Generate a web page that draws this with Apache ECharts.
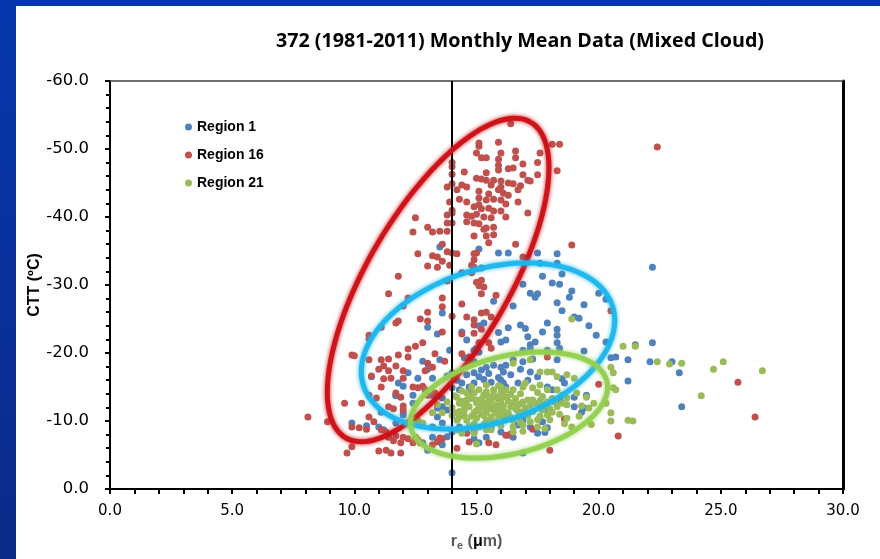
<!DOCTYPE html>
<html><head><meta charset="utf-8">
<script src="https://cdn.jsdelivr.net/npm/echarts@6/dist/echarts.min.js"></script>
<style>
html,body{margin:0;padding:0;width:880px;height:559px;overflow:hidden;background:linear-gradient(180deg,#0637ad 0%,#0a309a 55%,#0b2a86 100%);}
#c{position:absolute;left:16px;top:6px;width:864px;height:553px;background:#fff;}
</style></head><body><div id="c"></div>
<script>
const chartTitle='372 (1981-2011) Monthly Mean Data (Mixed Cloud)';
const xTicks=[0,5,10,15,20,25,30];
const yTicks=[-60,-50,-40,-30,-20,-10,0];
const seriesNames=['Region 1','Region 16','Region 21'];
const refLineX=14;

const region1=[
[13.5,-35.6],[15.1,-35.3],[15.9,-34.7],[16.3,-34.7],[17.5,-34.7],[18.3,-34.6],[18.3,-33.2],[17.6,-33.2],[15.2,-32.5],[17.7,-31.3],
[18.5,-31.6],[16.9,-30.1],[18.1,-30.3],[18.4,-30.1],[17.2,-28.8],[17.5,-28.7],[17.4,-28.2],[18.9,-29.1],[18.8,-28.2],[20.0,-28.8],
[15.7,-27.6],[18.3,-27.4],[19.4,-27.1],[20.3,-27.9],[16.5,-26.9],[18.5,-26.2],[13.6,-25.9],[15.1,-24.0],[15.3,-24.4],[13.0,-23.8],
[14.4,-23.1],[15.9,-23.0],[16.3,-23.7],[16.8,-24.1],[17.0,-23.6],[17.9,-24.4],[18.3,-23.5],[18.3,-22.6],[19.2,-25.1],[19.6,-24.0],
[13.4,-22.8],[17.7,-23.1],[17.1,-22.4],[17.4,-21.6],[17.2,-21.2],[14.6,-21.9],[16.0,-21.6],[16.2,-21.9],[18.3,-21.5],[19.9,-22.6],
[13.9,-20.4],[14.9,-20.4],[15.0,-20.7],[15.1,-20.1],[16.9,-20.4],[17.2,-20.7],[17.9,-20.4],[18.4,-20.7],[19.4,-20.3],[12.8,-18.8],
[13.5,-19.0],[14.5,-19.3],[16.5,-19.0],[16.9,-18.7],[17.3,-19.1],[18.3,-19.0],[20.5,-19.3],[20.7,-19.4],[21.2,-19.0],[21.5,-21.2],
[21.2,-15.9],[13.0,-17.6],[12.2,-17.1],[11.8,-15.6],[12.0,-15.1],[12.6,-16.3],[13.2,-16.3],[15.2,-17.5],[15.4,-17.9],[15.7,-18.2],
[16.0,-17.9],[16.2,-18.2],[17.2,-17.2],[17.5,-16.5],[10.7,-16.5],[11.7,-13.7],[14.0,-17.1],[14.3,-14.6],[14.7,-15.0],[17.9,-15.0],
[18.1,-14.6],[19.0,-12.1],[19.3,-11.3],[17.8,-11.8],[12.4,-12.6],[13.6,-12.1],[12.0,-10.9],[11.0,-9.1],[9.9,-9.7],[10.5,-9.3],
[15.4,-9.9],[15.6,-9.1],[16.9,-10.1],[17.2,-9.1],[17.5,-8.2],[17.8,-8.3],[13.2,-7.6],[13.5,-7.3],[14.0,-8.4],[12.8,-6.8],
[13.0,-5.7],[14.9,-7.4],[15.1,-6.8],[16.9,-5.3],[14.0,-2.4],[11.7,-13.8],[12.4,-13.8],[12.0,-11.2],[11.2,-8.7],[13.4,-10.6],
[13.6,-9.7],[13.8,-7.7],[13.6,-6.5],[17.7,-9.9],[17.9,-9.0],[18.4,-13.1],[19.5,-13.8],[16.7,-9.4],[16.3,-7.9],[14.9,-15.6],
[14.7,-14.1],[15.6,-15.7],[16.1,-15.6],[22.2,-32.6],[19.0,-25.3],[20.3,-21.6],[22.2,-21.5],[22.1,-18.7],[23.0,-18.7],[23.3,-17.1],
[23.4,-12.1],[14.7,-19.4],[14.9,-18.7],[15.5,-17.0],[16.1,-17.2],[14.9,-17.1],[15.1,-16.5],[14.2,-16.0],[14.4,-15.6],[12.9,-14.6],
[13.2,-13.8],[13.4,-11.9],[13.8,-11.6],[18.5,-16.2],[18.6,-15.6],[16.2,-15.0],[16.7,-15.6],[19.0,-13.5],[19.4,-11.9],[16.0,-8.4],
[16.5,-7.6],[15.4,-7.6],[14.3,-9.1],[13.2,-9.1],[11.7,-9.7],[11.1,-11.3],[15.9,-16.4],[16.4,-16.8],[15.3,-16.1],[16.8,-17.6],
[17.1,-16.0],[14.6,-16.8],[13.8,-16.6],[14.0,-14.9],[13.6,-13.4],[16.0,-16.0]
];

const region16=[
[16.4,-53.7],[15.1,-50.9],[15.9,-51.0],[18.1,-50.7],[18.4,-50.7],[15.1,-50.4],[15.0,-49.4],[16.0,-49.4],[16.6,-49.7],[17.6,-49.4],
[15.2,-48.7],[15.4,-48.7],[15.9,-48.5],[16.6,-48.7],[14.0,-48.0],[15.9,-47.6],[16.9,-47.8],[17.5,-48.0],[14.0,-47.4],[15.9,-46.9],
[16.3,-47.1],[16.5,-47.2],[18.3,-46.8],[14.5,-46.6],[15.4,-46.5],[14.0,-46.3],[16.9,-46.2],[17.5,-46.2],[15.0,-45.7],[15.2,-45.6],
[15.4,-45.4],[15.7,-45.4],[16.0,-45.3],[16.3,-45.0],[17.1,-45.4],[17.2,-45.3],[14.0,-44.9],[13.8,-44.4],[14.4,-44.7],[14.6,-44.4],
[15.6,-44.7],[16.0,-44.4],[15.9,-44.0],[16.5,-44.9],[16.8,-44.6],[15.1,-43.8],[15.5,-43.4],[16.1,-43.5],[16.3,-43.2],[16.7,-44.0],
[14.2,-44.0],[14.3,-42.6],[14.6,-42.2],[15.1,-42.8],[15.4,-42.5],[15.7,-42.6],[16.0,-42.5],[15.1,-41.8],[16.2,-41.9],[16.7,-42.2],
[13.9,-42.2],[14.0,-41.0],[14.9,-41.5],[15.2,-41.2],[15.5,-41.3],[15.7,-40.9],[16.0,-40.9],[14.6,-40.3],[14.8,-40.1],[15.0,-40.4],
[15.3,-40.0],[15.6,-39.9],[16.2,-40.0],[17.1,-40.6],[13.8,-40.3],[14.0,-40.6],[12.5,-39.9],[14.6,-39.3],[14.9,-39.1],[15.1,-39.0],
[13.8,-39.1],[14.0,-39.1],[13.0,-38.5],[13.2,-37.8],[13.5,-37.9],[13.8,-37.9],[12.4,-37.8],[15.3,-38.2],[15.4,-38.4],[15.7,-38.5],
[14.9,-37.2],[15.4,-37.2],[15.7,-37.4],[15.5,-36.2],[16.6,-36.0],[18.9,-35.9],[13.6,-36.0],[13.8,-34.9],[14.0,-34.7],[14.2,-34.6],
[14.9,-34.6],[15.0,-34.7],[12.6,-34.6],[13.2,-34.3],[13.4,-34.1],[13.6,-33.5],[14.9,-33.7],[14.8,-32.9],[14.9,-32.6],[16.9,-34.1],
[13.0,-32.8],[13.4,-32.6],[13.9,-32.9],[14.4,-31.8],[14.8,-31.8],[11.8,-31.3],[15.2,-30.7],[15.0,-30.4],[13.8,-30.6],[15.3,-29.7],
[11.4,-28.7],[12.2,-28.1],[15.2,-28.7],[15.8,-28.5],[13.6,-28.1],[15.1,-29.9],[12.0,-26.9],[13.6,-26.8],[14.4,-27.2],[13.0,-26.0],
[15.2,-25.9],[15.4,-26.0],[12.7,-25.0],[13.0,-24.7],[11.8,-24.7],[11.7,-24.4],[14.0,-25.4],[14.6,-25.3],[15.6,-25.3],[14.9,-24.9],
[14.9,-24.1],[11.1,-23.8],[15.2,-23.5],[13.6,-23.1],[10.6,-22.6],[10.6,-22.1],[14.4,-22.8],[14.9,-22.9],[15.1,-21.5],[15.5,-21.5],
[12.8,-21.5],[12.5,-21.0],[15.6,-20.7],[12.2,-20.6],[9.9,-19.7],[10.0,-19.6],[10.6,-19.0],[11.1,-19.0],[11.4,-19.1],[11.8,-19.7],
[12.2,-19.4],[13.3,-19.9],[13.7,-18.8],[14.4,-19.9],[14.7,-19.3],[11.2,-18.1],[11.4,-17.4],[11.0,-17.6],[11.7,-18.1],[12.0,-17.4],
[12.9,-17.4],[13.2,-17.9],[10.7,-16.6],[11.2,-16.2],[11.5,-16.3],[12.0,-16.3],[12.4,-15.0],[12.6,-14.9],[12.8,-15.1],[12.9,-14.6],
[11.1,-15.0],[10.6,-13.8],[10.9,-13.4],[11.7,-14.1],[11.9,-13.5],[13.0,-13.8],[13.3,-14.1],[9.6,-12.6],[10.3,-12.6],[11.4,-12.1],
[12.0,-11.6],[8.1,-10.6],[8.9,-9.9],[9.9,-9.1],[10.2,-9.0],[10.5,-8.8],[11.1,-8.7],[11.3,-8.4],[11.7,-7.8],[12.0,-7.6],
[12.2,-7.4],[12.5,-7.6],[11.6,-7.1],[11.9,-6.8],[9.9,-6.2],[9.7,-5.3],[11.0,-5.6],[11.3,-5.7],[11.5,-5.3],[11.9,-5.3],
[13.6,-7.4],[12.7,-6.8],[13.2,-6.5],[14.6,-8.2],[14.9,-8.4],[15.5,-6.8],[15.8,-6.5],[16.2,-7.9],[16.4,-8.1],[17.3,-8.8],
[18.0,-5.7],[17.9,-19.4],[20.0,-15.4],[20.8,-7.8],[18.6,-10.3],[15.9,-13.4],[13.0,-18.5],[11.6,-11.8],[12.0,-12.2],[10.6,-10.6],
[10.8,-9.9],[11.4,-7.6],[12.4,-6.8],[12.6,-7.2],[13.4,-6.9],[13.5,-7.5],[14.2,-6.0],[14.7,-6.9],[22.4,-50.3],[20.5,-26.2],
[25.7,-15.7],[26.4,-10.6]
];

const region21=[
[18.9,-25.0],[21.0,-21.0],[21.5,-21.0],[16.5,-18.5],[17.2,-19.0],[17.6,-17.2],[17.9,-17.2],[18.1,-17.2],[18.3,-16.5],[18.7,-16.8],
[19.0,-16.3],[20.5,-17.9],[20.6,-17.1],[20.7,-14.6],[19.8,-12.6],[19.6,-11.9],[20.5,-11.2],[20.5,-10.0],[21.4,-10.0],[19.2,-10.7],
[19.3,-12.2],[18.7,-10.4],[18.6,-9.6],[18.1,-11.3],[17.9,-10.9],[17.6,-10.7],[17.5,-9.1],[17.2,-9.9],[16.9,-9.4],[16.5,-10.1],
[16.1,-10.4],[15.8,-9.9],[15.0,-6.6],[16.0,-15.0],[16.5,-14.6],[16.9,-15.0],[17.3,-14.9],[17.6,-15.3],[17.9,-14.6],[18.3,-14.6],
[18.5,-13.8],[18.7,-12.4],[18.3,-12.1],[19.1,-14.1],[19.5,-13.5],[17.6,-12.1],[17.9,-12.8],[17.3,-13.1],[16.7,-12.4],[16.9,-11.3],
[17.1,-13.1],[14.2,-13.5],[14.3,-12.6],[14.5,-11.6],[14.6,-13.1],[14.7,-12.1],[14.9,-14.1],[14.9,-11.2],[15.0,-13.1],[15.1,-11.9],
[15.3,-13.8],[15.4,-12.6],[15.4,-11.3],[15.6,-13.1],[15.6,-12.1],[15.8,-13.5],[15.8,-11.2],[16.0,-12.6],[16.1,-11.6],[16.2,-13.5],
[16.4,-12.1],[14.1,-11.2],[14.3,-10.6],[14.6,-10.1],[15.0,-10.4],[15.4,-10.1],[13.4,-12.4],[13.6,-11.2],[13.2,-11.2],[12.8,-9.7],
[12.6,-10.1],[14.6,-14.1],[14.8,-15.0],[15.4,-15.3],[15.7,-14.6],[16.1,-13.8],[17.0,-15.6],[14.9,-8.2],[15.1,-9.1],[15.4,-8.7],
[15.6,-8.7],[16.5,-8.4],[16.5,-9.1],[14.2,-8.7],[14.4,-8.2],[17.7,-11.6],[18.5,-12.6],[18.7,-13.4],[20.3,-12.6],[20.6,-14.9],
[21.2,-10.1],[22.4,-18.7],[22.9,-18.4],[23.4,-18.5],[24.7,-17.6],[25.1,-18.7],[26.7,-17.4],[24.2,-13.7],[14.4,-12.9],[14.8,-13.3],
[15.2,-12.3],[15.5,-13.6],[15.9,-12.0],[16.3,-12.9],[16.6,-11.8],[15.1,-14.6],[15.7,-11.6],[16.0,-14.2],[14.5,-10.8],[15.3,-10.8],
[16.2,-10.9],[16.8,-12.5],[17.0,-11.9],[15.6,-9.8],[14.9,-9.6],[14.2,-10.1],[16.4,-13.9],[17.4,-12.6],[15.9,-15.2],[14.6,-12.4],
[15.4,-14.3],[16.7,-10.6],[14.0,-12.0],[14.1,-13.7],[17.7,-13.6],[18.1,-13.3],[18.0,-10.2],[16.9,-8.5],[17.8,-8.9],[18.9,-9.1],
[19.7,-9.5],[14.3,-11.4],[14.5,-12.2],[14.7,-13.6],[14.8,-10.7],[15.0,-11.5],[15.0,-12.7],[15.2,-13.2],[15.2,-11.0],[15.3,-12.0],
[15.5,-11.8],[15.5,-12.9],[15.6,-10.6],[15.7,-13.9],[15.8,-12.4],[15.9,-10.8],[16.0,-11.4],[16.0,-13.3],[16.1,-12.2],[16.2,-14.6],
[16.3,-11.2],[16.4,-10.5],[16.5,-12.7],[16.6,-13.3],[16.7,-11.5],[16.8,-14.0],[16.9,-12.8],[17.1,-10.8],[17.2,-12.3],[17.3,-11.4],
[17.5,-14.2],[17.6,-13.0],[17.8,-12.4],[18.0,-11.8],[18.2,-12.8],[18.4,-11.0],[14.4,-14.4],[14.0,-10.8],[13.8,-12.8],[14.7,-9.2],
[15.3,-9.5],[16.0,-9.3],[16.8,-9.8],[17.5,-10.2]
];

// ellipses: [centerX, centerY, axisEndX, axisEndY, conjugateEndX, conjugateEndY] in data units
const ellipseRed=[13.43,-30.74,17.22,-53.94,15.92,-25.47];
const ellipseCyan=[15.47,-21.03,20.57,-26.84,16.41,-10.28];
const ellipseGreen=[16.33,-12.35,20.34,-15.79,16.79,-5.35];

const colors=['#4f81bd','#c0504d','#9bbb59'];
const ellipseColors=['#cc1016','#1cb6ec','#92d050'];

function renderEllipse(params, api){
  const c=api.coord([api.value(0),api.value(1)]);
  const a=api.coord([api.value(2),api.value(3)]);
  const b=api.coord([api.value(4),api.value(5)]);
  const pts=[];
  for(let i=0;i<=144;i++){
    const t=i/144*2*Math.PI;
    pts.push([c[0]+Math.cos(t)*(a[0]-c[0])+Math.sin(t)*(b[0]-c[0]),
              c[1]+Math.cos(t)*(a[1]-c[1])+Math.sin(t)*(b[1]-c[1])]);
  }
  const col=api.visual('color');
  return {type:'polyline',shape:{points:pts},
    style:{fill:null,stroke:col,lineWidth:5,shadowBlur:4,shadowColor:col,opacity:0.95}};
}

const yMin=Math.min(...yTicks), yMax=Math.max(...yTicks);
const xMin=Math.min(...xTicks), xMax=Math.max(...xTicks);
const chart=echarts.init(document.getElementById('c'),null,{renderer:'canvas'});
const fmt=v=>Number(v).toFixed(1);
const tickFont='DejaVu Sans';
chart.setOption({
  animation:false,
  backgroundColor:'#ffffff',
  graphic:[{type:'text',x:504,y:35,style:{text:chartTitle,fill:'#000',font:'bold 19.7px "Open Sans"',textAlign:'center',textVerticalAlign:'middle'}}],
  legend:{data:seriesNames,orient:'vertical',left:164,top:108,itemWidth:7,itemHeight:7,itemGap:12,icon:'circle',
    textStyle:{fontFamily:'Liberation Sans',fontWeight:'bold',fontSize:14,color:'#000',lineHeight:16}},
  grid:{left:94,top:75,right:37,bottom:70,containLabel:false,outerBoundsMode:'none'},
  xAxis:[{type:'value',min:xMin,max:xMax,interval:xTicks[1]-xTicks[0],
    name:'{r|r}{e|e}{r| (}{mu|μ}{r|m)}',nameLocation:'middle',nameGap:43,nameMoveOverlap:false,
    nameTextStyle:{rich:{r:{fontFamily:'Liberation Sans',fontWeight:'bold',fontSize:16,color:'#595959'},
      e:{fontFamily:'Liberation Sans',fontWeight:'bold',fontSize:11,color:'#595959',verticalAlign:'bottom',padding:[8,0,0,0]},
      mu:{fontFamily:'Liberation Sans',fontWeight:'bold',fontSize:16,color:'#000'}}},
    axisLine:{show:true,onZero:false,lineStyle:{color:'#000',width:2}},
    axisTick:{show:true,inside:false,length:5,lineStyle:{color:'#000',width:2}},
    minorTick:{show:true,splitNumber:5,length:5,lineStyle:{color:'#000',width:2}},
    axisLabel:{formatter:fmt,fontFamily:tickFont,fontSize:15,color:'#000',margin:15},
    splitLine:{show:false},minorSplitLine:{show:false}},
   {type:'value',position:'top',min:xMin,max:xMax,
    axisLine:{show:true,onZero:false,lineStyle:{color:'#404040',width:1.5}},axisTick:{show:false},axisLabel:{show:false},splitLine:{show:false}}],
  yAxis:[{type:'value',inverse:true,min:yMin,max:yMax,interval:yTicks[1]-yTicks[0],
    name:'CTT (ºC)',nameLocation:'middle',nameGap:67,nameMoveOverlap:false,
    nameTextStyle:{fontFamily:'Liberation Sans',fontWeight:'bold',fontSize:16,color:'#000'},
    axisLine:{show:true,onZero:false,lineStyle:{color:'#000',width:2}},
    axisTick:{show:true,inside:false,length:5,lineStyle:{color:'#000',width:2}},
    minorTick:{show:true,splitNumber:5,length:4,lineStyle:{color:'#000',width:2}},
    axisLabel:{formatter:fmt,fontFamily:tickFont,fontSize:16.5,color:'#000',margin:21},
    splitLine:{show:false},minorSplitLine:{show:false}},
   {type:'value',position:'right',inverse:true,min:yMin,max:yMax,
    axisLine:{show:true,onZero:false,lineStyle:{color:'#000',width:3}},axisTick:{show:false},axisLabel:{show:false},splitLine:{show:false}}],
  series:[
    {name:seriesNames[0],type:'scatter',data:region1,symbolSize:7,itemStyle:{color:colors[0],opacity:1},z:2,
     markLine:{silent:true,symbol:'none',label:{show:false},lineStyle:{color:'#000',width:2,type:'solid'},data:[{xAxis:refLineX}],z:3}},
    {name:seriesNames[1],type:'scatter',data:region16,symbolSize:7,itemStyle:{color:colors[1],opacity:1},z:2},
    {name:seriesNames[2],type:'scatter',data:region21,symbolSize:7,itemStyle:{color:colors[2],opacity:1},z:2},
    {type:'custom',name:'ellipseRed',renderItem:renderEllipse,data:[ellipseRed],itemStyle:{color:ellipseColors[0]},z:5,silent:true},
    {type:'custom',name:'ellipseCyan',renderItem:renderEllipse,data:[ellipseCyan],itemStyle:{color:ellipseColors[1]},z:6,silent:true},
    {type:'custom',name:'ellipseGreen',renderItem:renderEllipse,data:[ellipseGreen],itemStyle:{color:ellipseColors[2]},z:7,silent:true}
  ]
});
</script></body></html>
